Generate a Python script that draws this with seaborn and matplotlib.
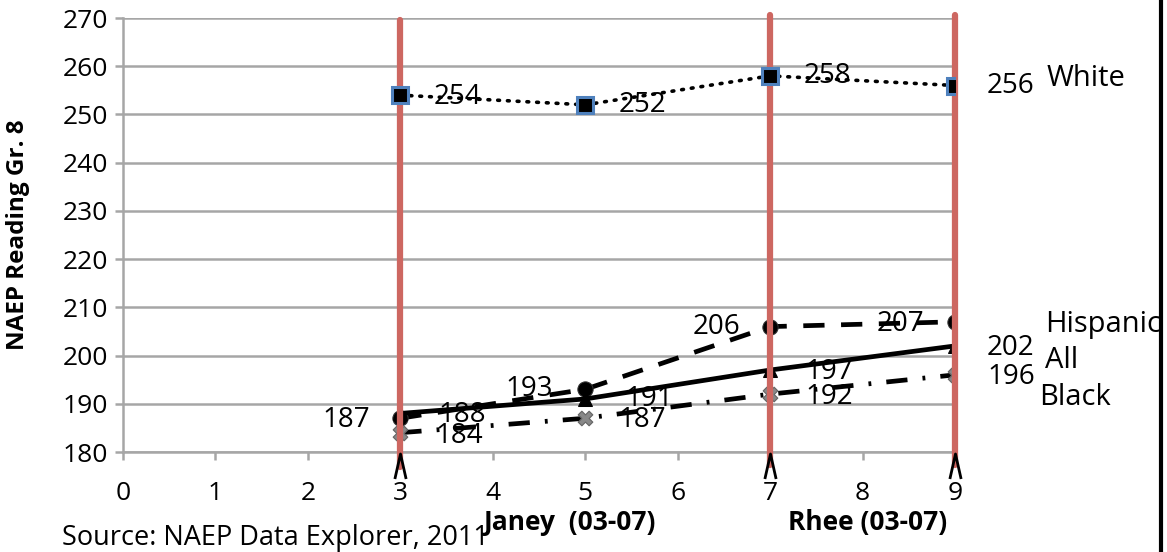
import numpy as np
import pandas as pd
import matplotlib
matplotlib.use("Agg")
import matplotlib.pyplot as plt
import seaborn as sns
from matplotlib.path import Path

# ---- data ----
years = [3, 5, 7, 9]
white = [254, 252, 258, 256]
hispanic = [187, 193, 206, 207]
all_students = [188, 191, 197, 202]
black = [184, 187, 192, 196]
series_names = ["White", "Hispanic", "All", "Black"]
x_ticks = [0, 1, 2, 3, 4, 5, 6, 7, 8, 9]
y_ticks = [180, 190, 200, 210, 220, 230, 240, 250, 260, 270]
marked_years = [3, 7, 9]
era_labels = ["Janey  (03-07)", "Rhee (03-07)"]
era_pos = [4.84, 8.05]

sns.set_theme(style="white")
plt.rcParams["font.family"] = ["Open Sans", "DejaVu Sans"]
plt.rcParams["text.color"] = "black"
plt.rcParams["axes.labelcolor"] = "black"

fig = plt.figure(figsize=(11.67, 5.52), dpi=100)
ax = fig.add_axes([123 / 1167, 1 - 452 / 552, (955 - 123) / 1167, (452 - 18) / 552])

df = pd.DataFrame({"x": years, "White": white, "Hispanic": hispanic,
                   "All": all_students, "Black": black})

grid_c = "#A6A6A6"
for yv in y_ticks:
    ax.axhline(yv, color=grid_c, lw=1.8, zorder=0)

red = "#CD6761"
tops = {3: 0.995, 7: 1.008, 9: 1.008}
bots = {3: -0.035, 7: -0.03, 9: -0.03}
for xv in marked_years:
    ax.axvline(xv, ymin=bots[xv], ymax=tops[xv], color=red, lw=4.5, zorder=5, clip_on=False)

# series
sns.lineplot(data=df, x="x", y="White", ax=ax, color="black", lw=2.6,
             linestyle=(0, (0.5, 2.2)), dash_capstyle="round",
             marker="s", markersize=11, markerfacecolor="black",
             markeredgecolor="#4F81BD", markeredgewidth=2.2, zorder=6)
sns.lineplot(data=df, x="x", y="Hispanic", ax=ax, color="black", lw=3.4,
             linestyle=(0, (4.5, 3.5)), marker="o", markersize=11,
             markerfacecolor="black", markeredgecolor="#333333", zorder=4)
sns.lineplot(data=df, x="x", y="All", ax=ax, color="black", lw=3.4,
             linestyle="-", marker="^", markersize=10,
             markerfacecolor="black", markeredgecolor="black", zorder=4)
sns.lineplot(data=df, x="x", y="Black", ax=ax, color="black", lw=3.4,
             linestyle=(0, (4.5, 3.2, 0.6, 3.2)), zorder=3)
sns.scatterplot(data=df, x="x", y="Black", ax=ax, marker="X", s=110,
                color="#888888", edgecolor="#666666", zorder=4)

# value labels (offsets in pixels)
fs_lab = 20
def label(xs, vals, offs, ha):
    for xv, v, off in zip(xs, vals, offs):
        ax.annotate(str(v), (xv, v), xytext=off, textcoords="offset pixels",
                    ha=ha, va="center", fontsize=fs_lab, zorder=7)

label(years, white, [(33, -2), (33, 0), (34, 0), (32, 0)], "left")
label(years, hispanic, [(-30, -2), (-32, 0), (-30, 0), (-31, -2)], "right")
label(years, all_students, [(38, -2), (40, 0), (35, -2), (32, -2)], "left")
label(years, black, [(35, -3), (33, -2), (35, -3), (32, -2)], "left")

# series names at right (baseline-anchored)
last_vals = [white[-1], hispanic[-1], all_students[-1], black[-1]]
name_offs = [(92, 0), (90, -10), (90, -22), (84, -30)]
for nm, v, off in zip(series_names, last_vals, name_offs):
    ax.annotate(nm, (years[-1], v), xytext=off, textcoords="offset pixels",
                ha="left", va="baseline", fontsize=21, annotation_clip=False)

# chevrons under red lines
chev = Path([(-0.45, -1), (0, 1), (0.45, -1)], [Path.MOVETO, Path.LINETO, Path.LINETO])
ax.plot(marked_years, [177.2] * len(marked_years), linestyle="none", marker=chev,
        markersize=18, markerfacecolor="none", markeredgecolor="black",
        markeredgewidth=2.0, clip_on=False, zorder=6)

ax.set_xlim(0, 9)
ax.set_ylim(180, 270)
ax.set_xticks(x_ticks)
ax.set_yticks(y_ticks)
ax.set_xticklabels([str(t) for t in x_ticks], fontsize=19)
ax.set_yticklabels([str(t) for t in y_ticks], fontsize=19)
ax.tick_params(axis="x", direction="out", length=6, width=1.8, color=grid_c,
               labelcolor="black", pad=15, bottom=True)
ax.tick_params(axis="y", direction="out", length=6, width=1.8, color=grid_c,
               labelcolor="black", pad=5, left=True)
for s in ["top", "right"]:
    ax.spines[s].set_visible(False)
for s in ["left", "bottom"]:
    ax.spines[s].set_color(grid_c)
    ax.spines[s].set_linewidth(1.8)
ax.set_xlabel("")
ax.set_ylabel("NAEP Reading Gr. 8", fontsize=17.5, fontweight="bold")
ax.yaxis.set_label_coords(-0.112, 0.5)

for lab, xp in zip(era_labels, era_pos):
    ax.text(xp, -0.163, lab, transform=ax.get_xaxis_transform(), fontsize=19,
            fontweight="bold", ha="center", va="center")
fig.text(62 / 1167, 1 - 538 / 552, "Source: NAEP Data Explorer, 2011", fontsize=19.5,
         ha="left", va="center")

# right border
fig.add_artist(plt.Line2D([1161 / 1167, 1161 / 1167], [0, 1], color="black", lw=3,
                          transform=fig.transFigure))

fig.savefig("out.png", dpi=100)
